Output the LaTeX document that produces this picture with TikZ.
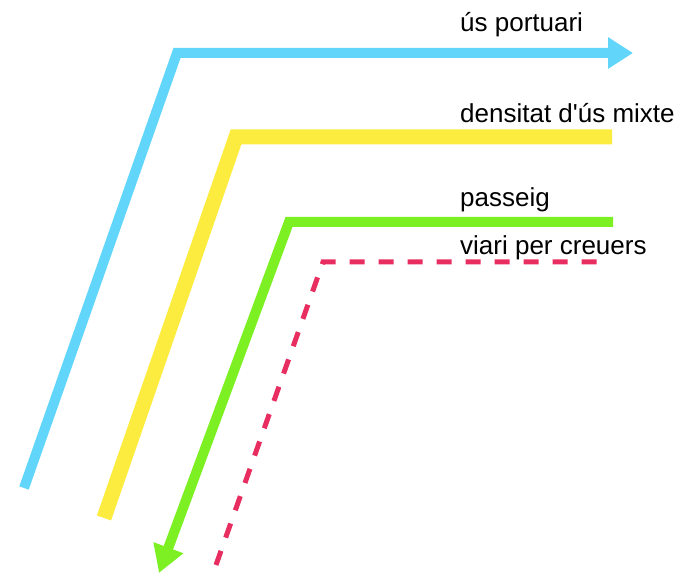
\documentclass[tikz,border=0pt]{standalone}
\usepackage{fontspec}
\setmainfont{Liberation Sans}
\usetikzlibrary{arrows.meta}
\definecolor{portblue}{RGB}{98,214,250}
\definecolor{mixyellow}{RGB}{252,236,64}
\definecolor{walkgreen}{RGB}{124,240,34}
\definecolor{cruisered}{RGB}{232,46,96}
\tikzset{
	lbl/.style={anchor=base west,inner sep=0pt,font=\fontsize{26}{30}\selectfont},
	band/.style={line join=miter,line cap=butt}
}

\begin{document}
\begin{tikzpicture}[x=1pt,y=-1pt]
			\useasboundingbox (0,0) rectangle (686,585);
			% us portuari
			\coordinate (p0) at (24,488);
			\coordinate (p1) at (177,53);
			\coordinate (p2) at (633,53);
			% densitat mixta
			\coordinate (m0) at (104,518);
			\coordinate (m1) at (236,137);
			\coordinate (m2) at (612,137);
			% passeig
			\coordinate (w0) at (613,222);
			\coordinate (w1) at (289,222);
			\coordinate (w2) at (159,573);
			% viari
			\coordinate (c0) at (216,565);
			\coordinate (c1) at (323,262);
			\coordinate (c2) at (600,262);
			\draw [band,portblue,line width=10pt,-{Triangle[length=25pt,width=30pt]}] (p0)--(p1)--(p2);
			\draw [band,mixyellow,line width=15pt] (m0)--(m1)--(m2);
			\draw [band,walkgreen,line width=10pt,-{Triangle[length=27pt,width=30pt]}] (w0)--(w1)--(w2);
			\draw [band,cruisered,line width=5pt,dash pattern=on 15pt off 14pt] (c0)--(c1)--(c2);
			\node[lbl] (tport) at (460,32) {ús portuari};
			\node[lbl] (tmix) at (460,123) {densitat d\textquotesingle ús mixte};
			\node[lbl] (twalk) at (460,207) {passeig};
			\node[lbl] (tcruise) at (460,255) {viari per creuers};
\end{tikzpicture}
\end{document}
